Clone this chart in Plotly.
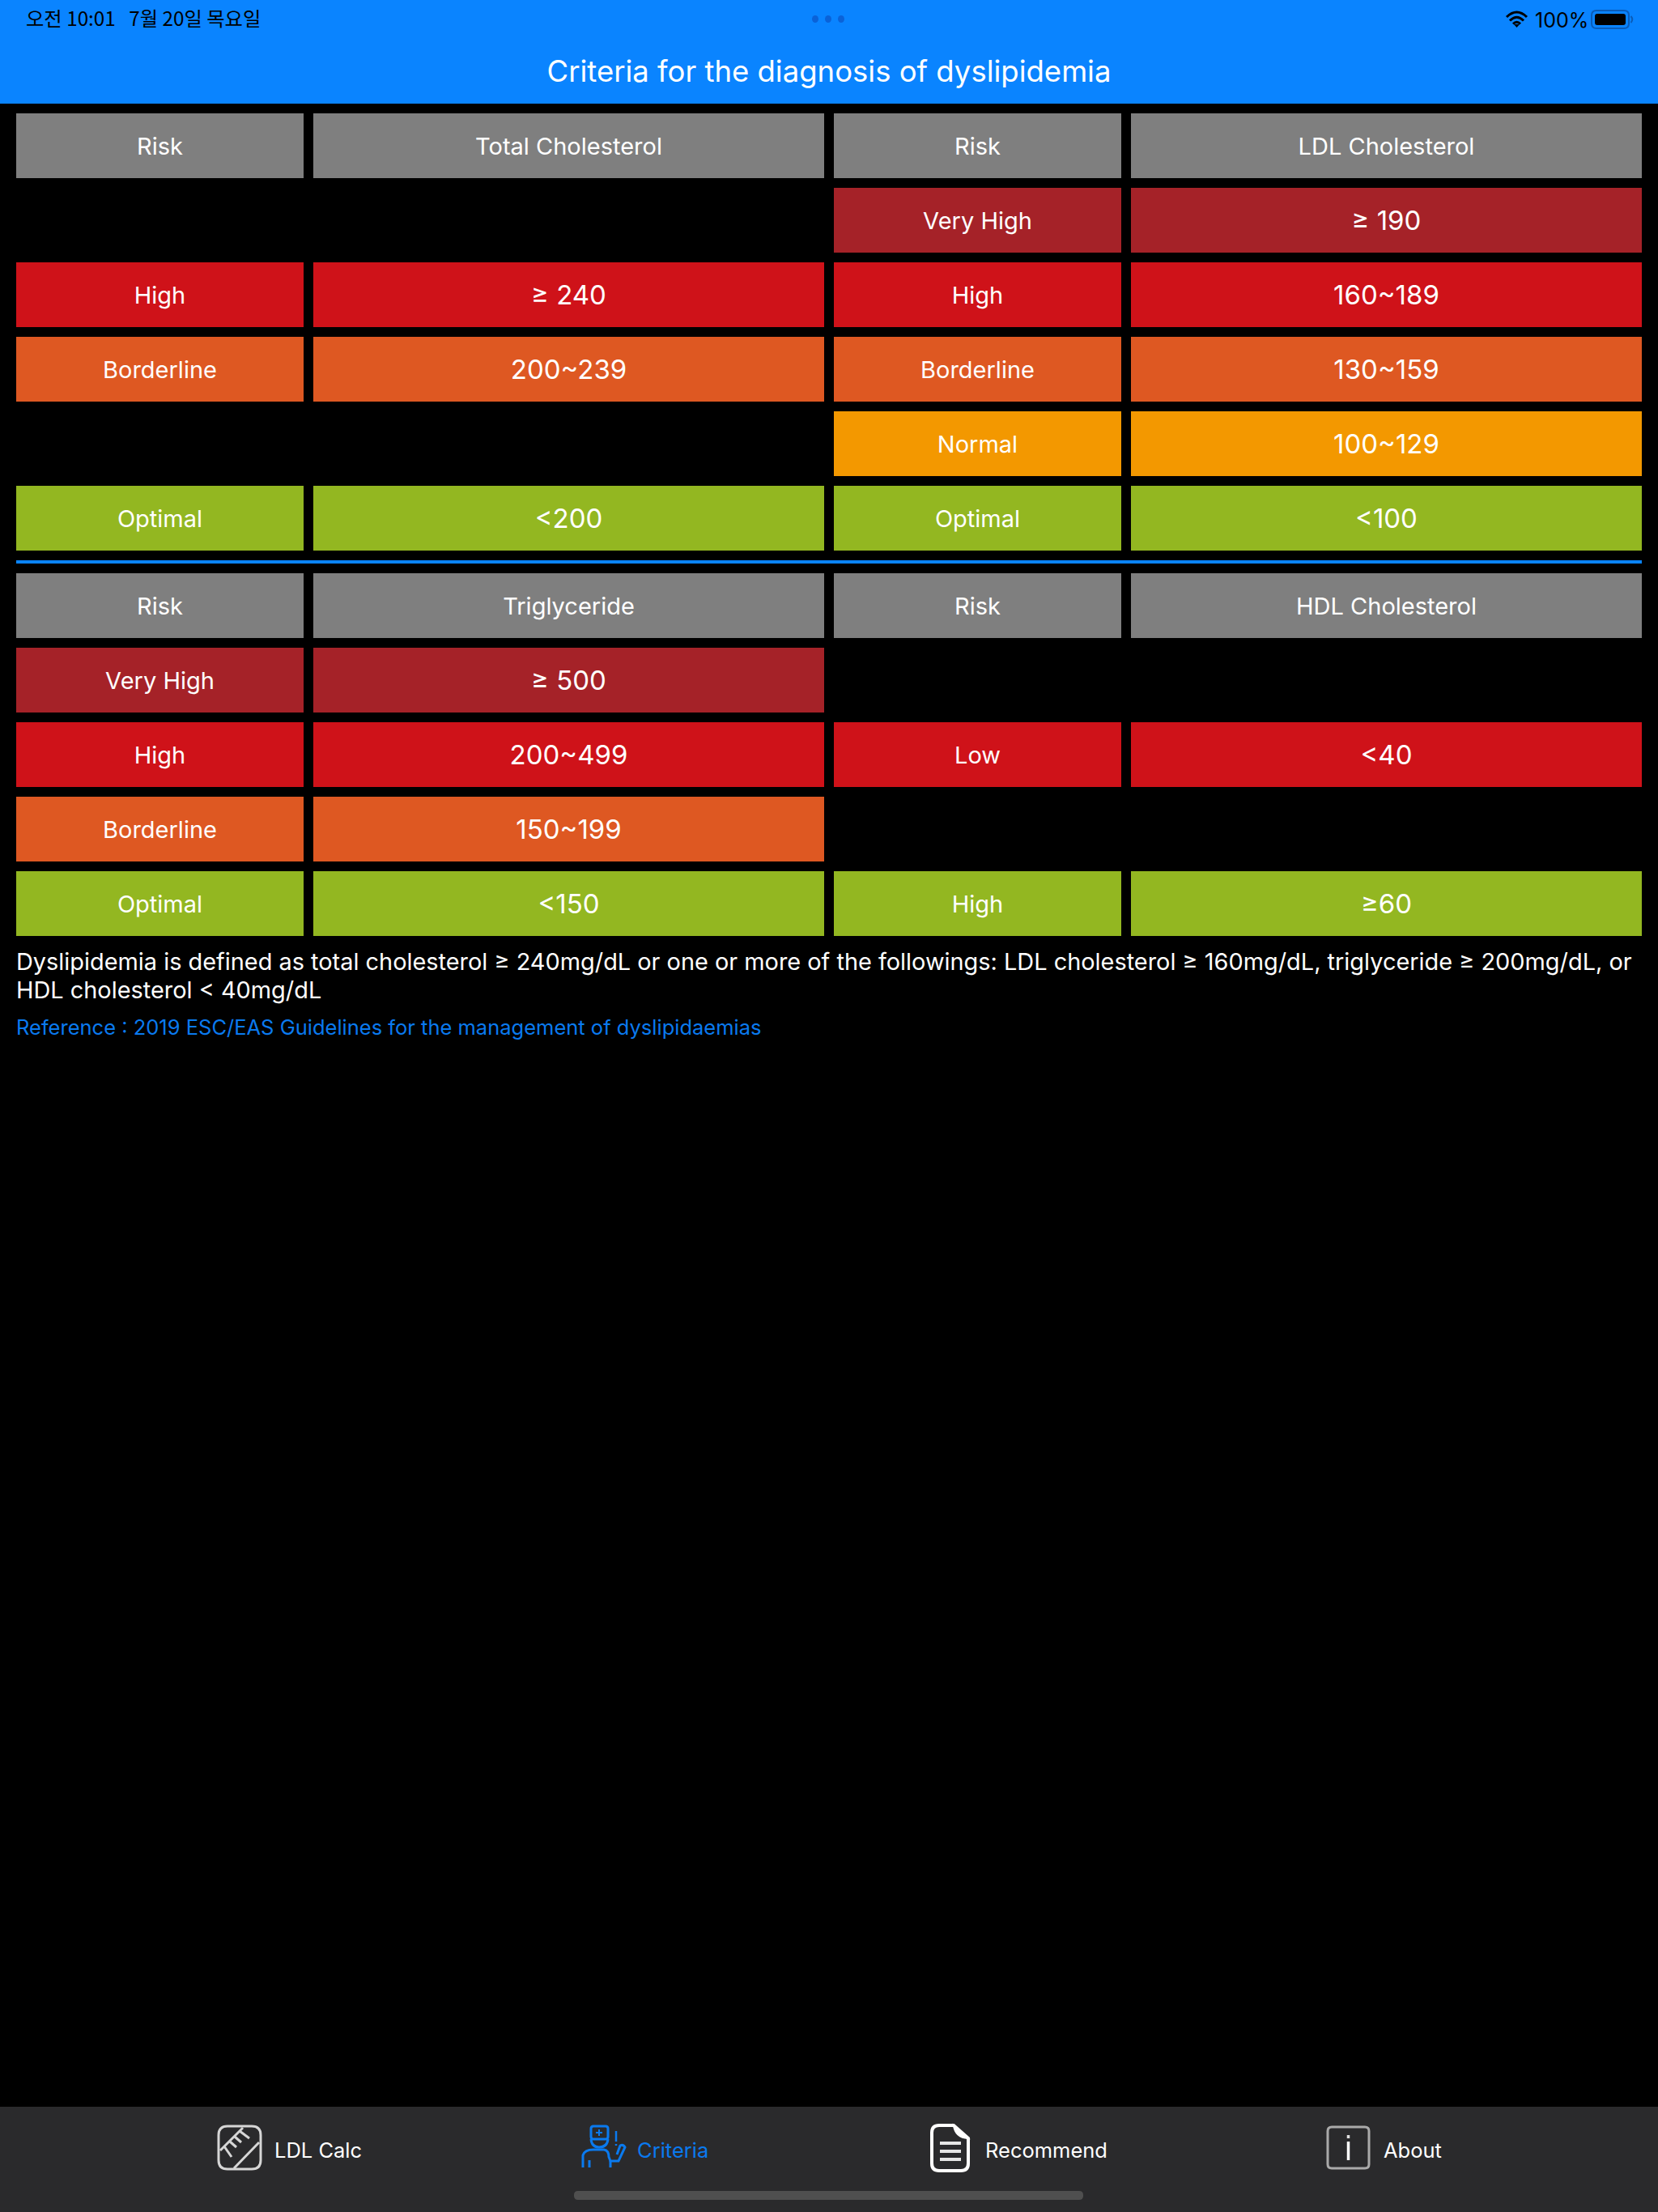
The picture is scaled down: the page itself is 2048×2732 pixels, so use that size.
import plotly.graph_objects as go

# ---------- content ----------
TITLE = "Criteria for the diagnosis of dyslipidemia"
STATUS_LEFT = "오전 10:01   7월 20일 목요일"
STATUS_RIGHT = "100%"

TC_RISK = ["Risk", None, "High", "Borderline", None, "Optimal"]
TC_VALS = ["Total Cholesterol", None, "≥ 240", "200~239", None, "<200"]
LDL_RISK = ["Risk", "Very High", "High", "Borderline", "Normal", "Optimal"]
LDL_VALS = ["LDL Cholesterol", "≥ 190", "160~189", "130~159", "100~129", "<100"]
TG_RISK = ["Risk", "Very High", "High", "Borderline", "Optimal"]
TG_VALS = ["Triglyceride", "≥ 500", "200~499", "150~199", "<150"]
HDL_RISK = ["Risk", None, "Low", None, "High"]
HDL_VALS = ["HDL Cholesterol", None, "<40", None, "≥60"]

TOP_LEVELS = ["head", "very", "high", "border", "normal", "optimal"]
BOTTOM_LEVELS = ["head", "very", "high", "border", "optimal"]

NOTE_1 = "Dyslipidemia is defined as total cholesterol ≥ 240mg/dL or one or more of the followings: LDL cholesterol ≥ 160mg/dL, triglyceride ≥ 200mg/dL, or"
NOTE_2 = "HDL cholesterol < 40mg/dL"
REFERENCE = "Reference : 2019 ESC/EAS Guidelines for the management of dyslipidaemias"
TABS = ["LDL Calc", "Criteria", "Recommend", "About"]

# ---------- style ----------
COLORS = {"head": "#7F7F7F", "very": "#A52228", "high": "#CF1219",
          "border": "#DE5822", "normal": "#F39800", "optimal": "#93B721"}
BLUE = "#0A84FF"
LINK = "#0A7AEF"
BAR = "#2A2A2C"
FONT = "Inter"
W, H = 2048, 2732
COLS = [(20, 375), (387, 1018), (1030, 1385), (1397, 2028)]
TOP_Y, BOTTOM_Y, PITCH, ROW_H = 140, 708, 92, 80
TEXT_DY = 3.5

bx, by, bbase, bcol = [], [], [], []
label_x, label_y, label_t = [], [], []
value_x, value_y, value_t = [], [], []


def add_column(col, texts, levels, top, is_value):
    x0, x1 = COLS[col]
    for i, (t, lev) in enumerate(zip(texts, levels)):
        if t is None:
            continue
        yc = top + i * PITCH + ROW_H / 2
        bx.append(x1 - x0)
        by.append(yc)
        bbase.append(x0)
        bcol.append(COLORS[lev])
        if is_value and lev != "head":
            value_x.append((x0 + x1) / 2); value_y.append(yc); value_t.append(t)
        else:
            label_x.append((x0 + x1) / 2); label_y.append(yc); label_t.append(t)


add_column(0, TC_RISK, TOP_LEVELS, TOP_Y, False)
add_column(1, TC_VALS, TOP_LEVELS, TOP_Y, True)
add_column(2, LDL_RISK, TOP_LEVELS, TOP_Y, False)
add_column(3, LDL_VALS, TOP_LEVELS, TOP_Y, True)
add_column(0, TG_RISK, BOTTOM_LEVELS, BOTTOM_Y, False)
add_column(1, TG_VALS, BOTTOM_LEVELS, BOTTOM_Y, True)
add_column(2, HDL_RISK, BOTTOM_LEVELS, BOTTOM_Y, False)
add_column(3, HDL_VALS, BOTTOM_LEVELS, BOTTOM_Y, True)

fig = go.Figure()
fig.add_trace(go.Bar(x=bx, y=by, base=bbase, orientation="h", width=ROW_H,
                     marker=dict(color=bcol, line=dict(width=0)), hoverinfo="skip"))


def text_trace(xs, ys, ts, size, color="#FFFFFF", pos="middle center", family=FONT):
    fig.add_trace(go.Scatter(x=xs, y=[v + TEXT_DY for v in ys], text=ts, mode="text", textposition=pos,
                             textfont=dict(family=family, size=size, color=color),
                             hoverinfo="skip"))


text_trace(label_x, label_y, label_t, 29)
text_trace(value_x, value_y, value_t, 33)
text_trace([1024], [88], [TITLE], 36.5)
text_trace([20], [1187], [NOTE_1], 28.9, pos="middle right")
text_trace([20], [1222], [NOTE_2], 28.9, pos="middle right")
text_trace([20], [1268], [REFERENCE], 25.5, color=LINK, pos="middle right")
text_trace([339, 787, 1217, 1709], [2655] * 4, TABS, 25.5, pos="middle right")
fig.data[-1].textfont.color = ["#FFFFFF", LINK, "#FFFFFF", "#FFFFFF"]
text_trace([32], [22.5], [STATUS_LEFT], 24.3, color="#000000", pos="middle right", family="Noto Sans CJK KR")
text_trace([1896], [24], [STATUS_RIGHT], 25, color="#000000", pos="middle right")

# ---------- chrome ----------
shapes = []


def rect(x0, y0, x1, y1, fill, line=None, lw=0):
    shapes.append(dict(type="rect", x0=x0, y0=y0, x1=x1, y1=y1, fillcolor=fill,
                       line=dict(width=lw, color=line or fill), layer="below"))


def path(d, color, lw=3, fill=None):
    shapes.append(dict(type="path", path=d, fillcolor=fill or "rgba(0,0,0,0)",
                       line=dict(color=color, width=lw), layer="above"))


def rrect(x0, y0, x1, y1, r):
    return (f"M{x0+r},{y0} L{x1-r},{y0} Q{x1},{y0} {x1},{y0+r} L{x1},{y1-r} Q{x1},{y1} {x1-r},{y1} "
            f"L{x0+r},{y1} Q{x0},{y1} {x0},{y1-r} L{x0},{y0+r} Q{x0},{y0} {x0+r},{y0} Z")


rect(0, 0, W, 128, BLUE)
rect(20, 692, 2028, 696, BLUE)
rect(0, 2602, W, H, BAR)
path(rrect(709, 2706, 1338, 2717, 5), "#4F4F4F", lw=0, fill="#4F4F4F")

# multitask dots
for cx in (1007, 1023, 1039):
    shapes.append(dict(type="circle", x0=cx - 4, x1=cx + 4, y0=19, y1=28, fillcolor="#0A62D8",
                       line=dict(width=0)))

# wifi
path("M1861,21 Q1873.5,9 1886,21", "#000000", 3)
path("M1865,25.5 Q1873.5,17 1882,25.5", "#000000", 3)
path("M1869,29.5 Q1873.5,25 1878,29.5", "#000000", 3)
path("M1873.5,34 L1870,30 L1877,30 Z", "#000000", 0, "#000000")
# battery
path(rrect(1966, 13, 2012, 35, 6), "#0A5CB8", 2)
path(rrect(1970, 17, 2008, 31, 3), "#000000", 0, "#000000")
path("M2014.5,20 Q2018,24 2014.5,28", "#0A5CB8", 2)

# ruler icon
ICON_GREY = "#D6D6D6"
path(rrect(270, 2626, 322, 2679, 11), ICON_GREY, 3)
path("M300,2628 L272,2656", ICON_GREY, 3)
path("M320,2646 L289,2678", ICON_GREY, 3)
for a, b, c, d in [(296, 2632, 308, 2641), (290, 2639, 298, 2646), (284, 2645, 292, 2652), (277, 2651, 286, 2664)]:
    path(f"M{a},{b} L{c},{d}", ICON_GREY, 3)

# doctor icon
path(rrect(730, 2626, 751, 2642, 3), LINK, 3)
path("M730,2642 Q731,2652 740,2652 Q750,2652 751,2642", LINK, 3)
path("M740,2630 L740,2638 M736,2634 L744,2634", LINK, 2)
path("M720,2677 L720,2662 Q722,2655 733,2655 L746,2655 Q752,2656 752,2664 L754,2669 L764,2669 L772,2652 Q770,2648 766,2650 L762,2661", LINK, 3)
path("M728,2668 L728,2677 M754,2669 L754,2677", LINK, 3)
path("M761,2632 L761,2645 M761,2648 L761,2650", LINK, 2.5)

# document icon
path("M1160,2625 L1178,2625 L1196,2641 L1196,2672 Q1196,2681 1187,2681 L1160,2681 Q1151,2681 1151,2672 L1151,2634 Q1151,2625 1160,2625 Z", "#FFFFFF", 4)
path("M1178,2625 Q1180,2640 1196,2641 L1178,2625 Z", "#FFFFFF", 2, "#FFFFFF")
for yy in (2647, 2657, 2667):
    path(f"M1161,{yy} L1187,{yy}", "#E6E6E6", 4)

# info icon
path(rrect(1640, 2627, 1691, 2678, 5), "#A9A9A9", 3)
path("M1665.5,2645 L1665.5,2668", "#FFFFFF", 3.5)
path("M1665.5,2637 L1665.5,2641", "#E0E0E0", 3.5)

fig.update_layout(
    width=W, height=H, margin=dict(l=0, r=0, t=0, b=0), showlegend=False,
    paper_bgcolor="#000000", plot_bgcolor="#000000", shapes=shapes, bargap=0,
    xaxis=dict(range=[0, W], visible=False, fixedrange=True),
    yaxis=dict(range=[H, 0], visible=False, fixedrange=True),
)
fig.write_html("out.html", post_script="document.body.style.margin='0';document.body.style.background='#000';",
               config=dict(displayModeBar=False))
